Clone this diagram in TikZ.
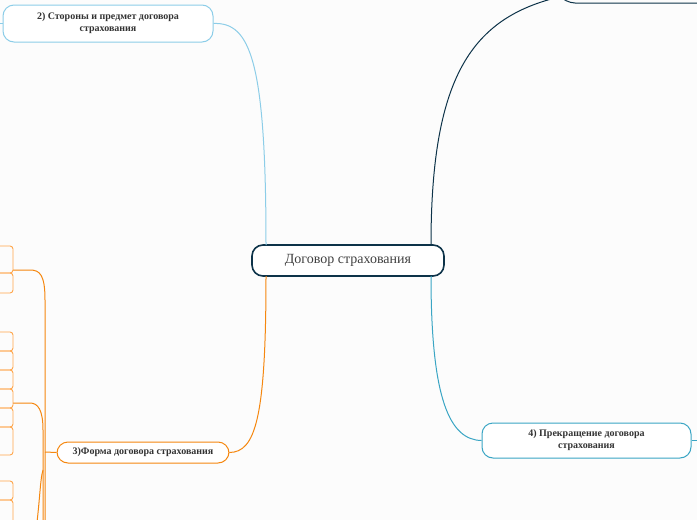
\documentclass[tikz,border=0pt]{standalone}
\usepackage{fontspec}
\setmainfont{Liberation Serif}
\begin{document}
\begin{tikzpicture}[x=1pt,y=-1pt,
  box/.style={draw,rounded corners=11pt,line width=1pt,fill=white,align=center,font=\bfseries\fontsize{10}{12}\selectfont,text=black!80,inner sep=0pt},
  leaf/.style={draw=orange!70,line width=0.9pt,rounded corners=3pt},
  con/.style={line width=1pt}]
\definecolor{navy}{HTML}{0D3349}
\definecolor{lblue}{HTML}{8CCDE8}
\definecolor{teal4}{HTML}{3AA5C4}
\definecolor{org}{HTML}{F5870F}
\fill[white!98!gray] (0,0) rectangle (697,520);
\useasboundingbox (0,0) rectangle (697,520);
% nodes
\node[box,draw=navy,line width=1.6pt,minimum width=192pt,minimum height=31pt,font=\fontsize{14}{16}\selectfont,text=black!75] (c) at (348,260.5) {Договор страхования};
\node[box,draw=lblue,minimum width=210pt,minimum height=37pt] (n2) at (108,23.5) {2) Стороны и предмет договора\\страхования};
\node[box,draw=org,minimum width=172pt,minimum height=21pt] (n3) at (143,452.5) {3)Форма договора страхования};
\node[box,draw=teal4,minimum width=209pt,minimum height=35pt] (n4) at (586.5,440.5) {4) Прекращение договора\\страхования};
\draw[navy,line width=1pt,rounded corners=10pt] (697,3) -- (565,3) -- (555,-10);
\coordinate (tr) at (555,-2);
% connectors
\draw[con,lblue] (266,245) .. controls (266,60) and (250,22) .. (n2.east);
\draw[con,lblue] (n2.west) -- (0,23.5);
\draw[con,org] (266,276) .. controls (266,420) and (255,452) .. (n3.east);
\draw[con,navy] (431,245) .. controls (431,80) and (470,20) .. (tr);
\draw[con,teal4] (431,276) .. controls (431,400) and (450,440) .. (n4.west);
\draw[con,teal4] (n4.east) -- (697,440.5);
% left orange structure
\draw[con,org] (n3.west) -- (45,452);
\draw[con,org] (45,530) -- (45,300) .. controls (45,275) and (40,270) .. (30,270) -- (13,270);
\draw[con,org] (43,530) -- (43,430) .. controls (43,410) and (38,403) .. (30,403) -- (13,403);
\draw[con,org] (36,530) .. controls (40,500) and (40,480) .. (43,470);
\foreach \a/\b in {246/273,273/293,332/351,351/370,370/389,389/408,408/427,427/455,481/500,500/530}
  \draw[leaf] (-5,\a) -- (13,\a) -- (13,\b) -- (-5,\b);
\end{tikzpicture}
\end{document}
